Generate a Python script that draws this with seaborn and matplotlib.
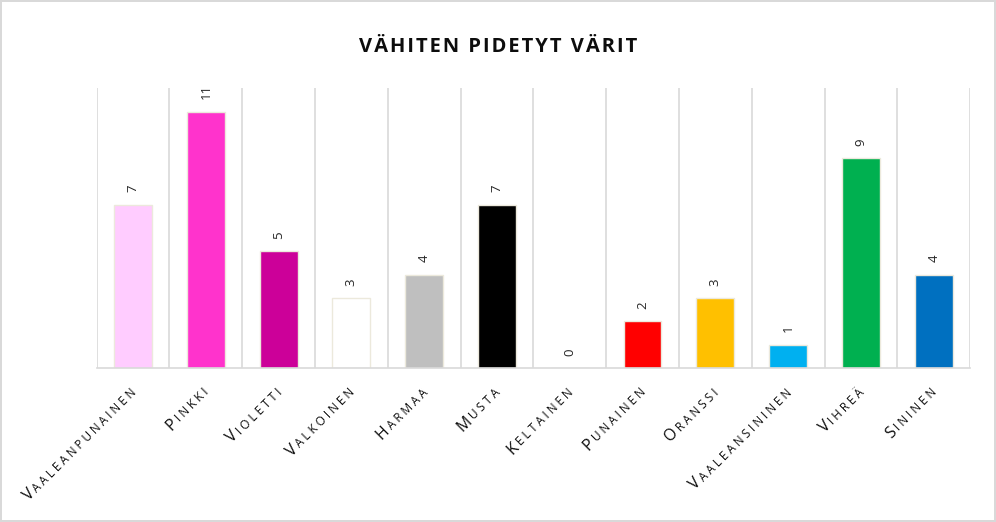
import matplotlib
matplotlib.use("Agg")
import matplotlib.pyplot as plt
import matplotlib.transforms as mtransforms
import seaborn as sns
import pandas as pd
import numpy as np

# Datos
categories = ["Vaaleanpunainen", "Pinkki", "Violetti", "Valkoinen", "Harmaa", "Musta",
              "Keltainen", "Punainen", "Oranssi", "Vaaleansininen", "Vihreä", "Sininen"]
counts = [7, 11, 5, 3, 4, 7, 0, 2, 3, 1, 9, 4]
bar_colors = ["#FFCCFF", "#FF33CC", "#CC0099", "#FFFFFF", "#BFBFBF", "#000000",
              "#FFFF00", "#FF0000", "#FFC000", "#00B0F0", "#00B050", "#0070C0"]
title = "VÄHITEN PIDETYT VÄRIT"

sns.set_theme(style="white")
plt.rcParams["font.family"] = ["Open Sans", "DejaVu Sans"]

df = pd.DataFrame({"vari": categories, "maara": counts})

fig = plt.figure(figsize=(9.96, 5.22), dpi=100)
fig.patch.set_edgecolor("#d9d9d9")
fig.patch.set_linewidth(1.5)
ax = fig.add_axes([0.097, 0.295, 0.877, 0.536])

sns.barplot(data=df, x="vari", y="maara", hue="vari", palette=dict(zip(categories, bar_colors)),
            saturation=1, width=0.52, edgecolor="#ECE9DC", linewidth=1.0, legend=False, ax=ax)

ax.set_ylim(0, 12)
ax.set_xlim(-0.5, len(categories) - 0.5)
for x in np.arange(-0.5, len(categories), 1.0):
    ax.axvline(x, color="#d9d9d9", lw=1.2, zorder=0)
for s in ["top", "right", "left"]:
    ax.spines[s].set_visible(False)
ax.spines["bottom"].set_color("#d9d9d9")
ax.spines["bottom"].set_linewidth(1.2)
ax.set_yticks([])
ax.set_xticks([])
ax.set_xlabel("")
ax.set_ylabel("")

# Etiquetas de valor
for i, v in enumerate(counts):
    ax.annotate(str(v), (i, v), xytext=(0, 9), textcoords="offset points",
                rotation=90, ha="center", va="bottom", fontsize=9.5, color="#262626")

# titulo con espaciado entre letras (y entre palabras)
spaced_title = "\u2009 ".join("\u200a".join(word) for word in title.split(" "))
fig.text(0.5, 0.91, spaced_title, ha="center", va="center", fontsize=14.5, fontweight="bold", color="#0d0d0d")

# Etiquetas tipo versalitas
fig.canvas.draw()
renderer = fig.canvas.get_renderer()
big, small = 11.5, 8.5
c = np.cos(np.radians(45))
ox, oy = 4, -25
for i, name in enumerate(categories):
    rest = " ".join(name[1:].upper())
    trans = mtransforms.offset_copy(ax.get_xaxis_transform(), fig=fig, x=ox, y=oy, units="dots")
    t = ax.text(i, 0, rest, transform=trans, rotation=0, rotation_mode="anchor",
                ha="right", va="baseline", fontsize=small, color="#0d0d0d")
    w = t.get_window_extent(renderer).width + 2.5
    t.set_rotation(45)
    trans2 = mtransforms.offset_copy(ax.get_xaxis_transform(), fig=fig,
                                     x=ox - w * c, y=oy - w * c, units="dots")
    ax.text(i, 0, name[0].upper(), transform=trans2, rotation=45, rotation_mode="anchor",
            ha="right", va="baseline", fontsize=big, color="#0d0d0d")

fig.savefig("out.png", dpi=100)
